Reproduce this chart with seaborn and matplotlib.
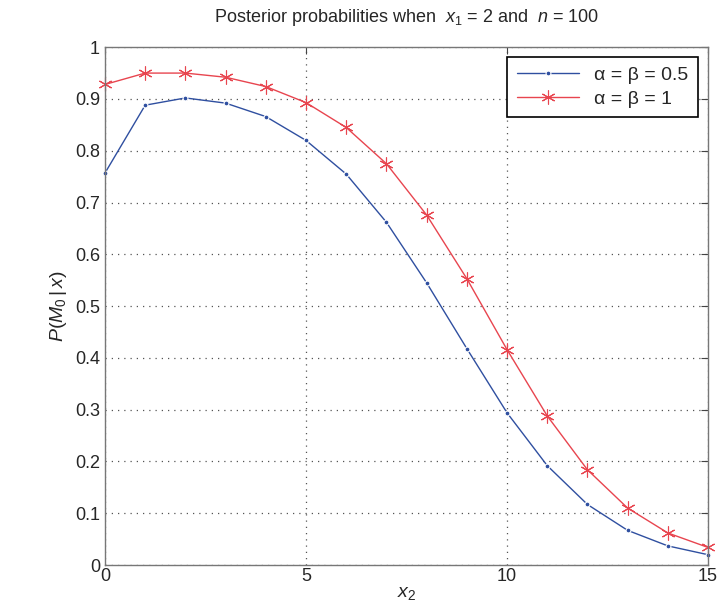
import numpy as np
import pandas as pd
import seaborn as sns
import matplotlib
import matplotlib.pyplot as plt

matplotlib.use("Agg")

x2 = list(range(0, 16))
p_half = [0.757, 0.888, 0.902, 0.892, 0.866, 0.820, 0.755, 0.662,
          0.545, 0.418, 0.294, 0.192, 0.117, 0.067, 0.037, 0.020]
p_one = [0.928, 0.950, 0.950, 0.942, 0.924, 0.893, 0.845, 0.775,
         0.676, 0.553, 0.416, 0.288, 0.184, 0.110, 0.062, 0.034]
labels = ["α = β = 0.5", "α = β = 1"]


def init():
    sns.set_style("white")
    plt.rcParams["font.family"] = ["Liberation Sans", "DejaVu Sans"]
    plt.rcParams["mathtext.fontset"] = "custom"
    plt.rcParams["mathtext.rm"] = "Liberation Sans"
    plt.rcParams["mathtext.it"] = "Liberation Sans:italic"
    plt.rcParams["xtick.direction"] = "in"
    plt.rcParams["ytick.direction"] = "in"


init()

data = pd.DataFrame({
    "x2": x2 * 2,
    "P": p_half + p_one,
    "Prior": [labels[0]] * len(x2) + [labels[1]] * len(x2),
})

fig = plt.figure(figsize=(7.24, 6.05), dpi=100)
ax = fig.add_axes([0.145, 0.066, 0.833, 0.856])

sns.lineplot(
    data=data, x="x2", y="P", hue="Prior", style="Prior",
    hue_order=labels, style_order=labels,
    palette=["#2f4fa0", "#e8454f"],
    markers={labels[0]: ".", labels[1]: "*"},
    dashes=False, linewidth=1.0, markersize=9,
    markeredgewidth=0.8, ax=ax,
)
# matlab-style asterisk markers, and keep end markers unclipped
for line in ax.get_lines():
    line.set_clip_on(False)
    if line.get_marker() == "*":
        line.set_marker((6, 2, 0))
        line.set_markersize(10)
        line.set_markeredgecolor("#e8454f")
    elif line.get_marker() == ".":
        line.set_markersize(7)

ax.set_xlim(0, 15)
ax.set_ylim(0, 1)
ax.set_xticks([0, 5, 10, 15])
ax.set_yticks(np.round(np.arange(0, 1.01, 0.1), 1))
ax.set_yticklabels(["0", "0.1", "0.2", "0.3", "0.4", "0.5", "0.6", "0.7", "0.8", "0.9", "1"])
ax.tick_params(labelsize=13, length=5, top=True, right=True, color="#444444")
ax.tick_params(axis="x", pad=2)
ax.grid(True, linestyle=(0, (1, 4)), color="#555555", linewidth=0.9)
for s in ax.spines.values():
    s.set_color("#777777")
    s.set_linewidth(1.0)

ax.set_xlabel(r"$\mathit{x_2}$", fontsize=14, labelpad=0)
ax.set_ylabel(r"$\mathit{P(M_0\,|\,x)}$", fontsize=14)
ax.set_title(r"Posterior probabilities when  $\mathit{x_1}$ = $\mathit{2}$ and  $\mathit{n}$ = $\mathit{100}$",
             fontsize=13, pad=18)

leg = ax.legend(title=None, loc="upper right", fontsize=14, frameon=True,
                fancybox=False, borderaxespad=0.5, handlelength=3.2,
                borderpad=0.5, labelspacing=0.3)
leg.get_frame().set_edgecolor("black")
leg.get_frame().set_linewidth(1.2)
leg.get_frame().set_alpha(1)

fig.savefig("out.png", dpi=100)
